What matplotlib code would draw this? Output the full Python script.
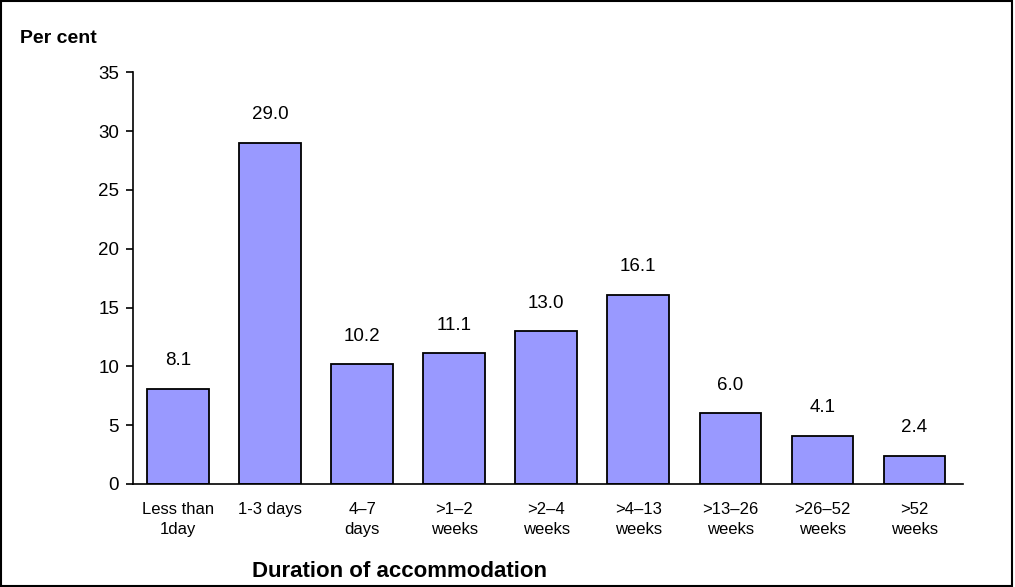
import matplotlib
matplotlib.use("Agg")
import matplotlib.pyplot as plt
from matplotlib.patches import Rectangle

categories = ["Less than\n1day", "1-3 days", "4\u20137\ndays", ">1\u20132\nweeks", ">2\u20134\nweeks",
              ">4\u201313\nweeks", ">13\u201326\nweeks", ">26\u201352\nweeks", ">52\nweeks"]
values = [8.1, 29.0, 10.2, 11.1, 13.0, 16.1, 6.0, 4.1, 2.4]
yticks = [0, 5, 10, 15, 20, 25, 30, 35]

plt.rcParams['font.family'] = ['Liberation Sans', 'DejaVu Sans']

fig = plt.figure(figsize=(10.15, 5.87), dpi=100)
ax = fig.add_axes([0.131, 0.1755, 0.818, 0.7015])

x = list(range(len(values)))
bars = ax.bar(x, values, width=0.67, color='#9999FF', edgecolor='black', linewidth=1.3, zorder=2)

for xi, v in zip(x, values):
    ax.annotate(f"{v:.1f}", (xi, v), xytext=(0, 14), textcoords='offset points',
                ha='center', va='bottom', fontsize=13.5)

ax.set_xlim(-0.49, 8.53)
ax.set_ylim(0, 35)
ax.set_yticks(yticks)
ax.tick_params(axis='y', direction='out', length=5, width=1.2, labelsize=13.5, pad=5)
ax.set_xticks(x)
ax.set_xticklabels(categories, fontsize=12, linespacing=1.4)
ax.tick_params(axis='x', length=0, pad=13)

for side in ['top', 'right']:
    ax.spines[side].set_visible(False)
ax.spines['left'].set_linewidth(1.2)
ax.spines['bottom'].set_linewidth(1.2)

fig.text(0.02, 0.935, "Per cent", fontsize=14, fontweight='bold', ha='left', va='center')
fig.text(0.394, 0.027, "Duration of accommodation", fontsize=16, fontweight='bold',
         ha='center', va='center')

# outer frame around the whole picture
fig.patches.append(Rectangle((0.001, 0.002), 0.996, 0.996, transform=fig.transFigure,
                             fill=False, edgecolor='black', linewidth=1.5))

fig.savefig("out.png", dpi=100)
